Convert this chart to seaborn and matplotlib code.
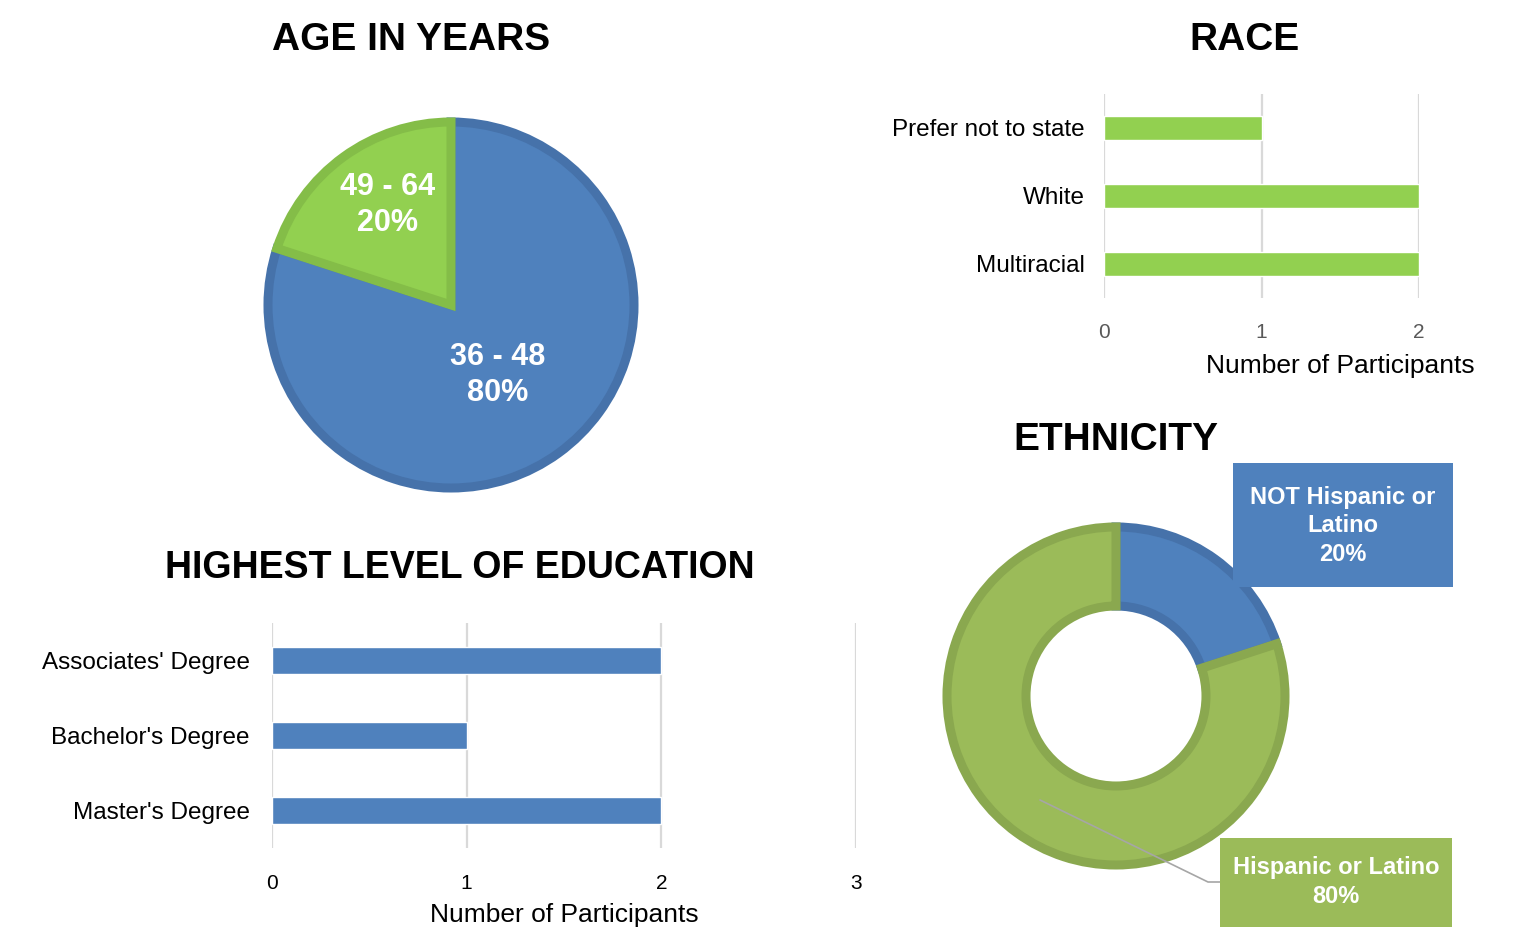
import matplotlib
matplotlib.use("Agg")
import matplotlib.pyplot as plt
import seaborn as sns

# ---- data ----
age_groups = ["36 - 48", "49 - 64"]
age_share = [80, 20]

race_categories = ["Prefer not to state", "White", "Multiracial"]
race_counts = [1, 2, 2]

edu_categories = ["Associates' Degree", "Bachelor's Degree", "Master's Degree"]
edu_counts = [2, 1, 2]

eth_groups = ["NOT Hispanic or\nLatino", "Hispanic or Latino"]
eth_share = [20, 80]

# ---- style ----
sns.set_theme(style="white")
plt.rcParams["font.family"] = ["Liberation Sans", "DejaVu Sans"]

BLUE = "#4f81bd"
BLUE_EDGE = "#4672aa"
LIME = "#92d050"
LIME_EDGE = "#84bd48"
OLIVE = "#9bbb59"
OLIVE_EDGE = "#8aa84f"
GRID = "#d9d9d9"

W, H = 1521, 927
fig = plt.figure(figsize=(W / 100, H / 100), dpi=100)


def box(x0, y0, x1, y1):
    return [x0 / W, 1 - y1 / H, (x1 - x0) / W, (y1 - y0) / H]


def title(text, x, y, size=28):
    fig.text(x / W, 1 - y / H, text, ha="center", va="center",
             fontsize=size, fontweight="bold", color="black")


# ---- age pie ----
ax_age = fig.add_axes(box(251, 105, 651, 505))
ax_age.pie(age_share, colors=[BLUE, LIME], startangle=90, counterclock=False,
           radius=0.915,
           wedgeprops=dict(linewidth=6.5))
for w, ec in zip(ax_age.patches, [BLUE_EDGE, LIME_EDGE]):
    w.set_edgecolor(ec)
ax_age.set_xlim(-1, 1)
ax_age.set_ylim(-1, 1)
ax_age.set_aspect("equal")
age_label_pos = [(0.235, -0.35), (-0.315, 0.5)]
for (lx, ly), grp, pct in zip(age_label_pos, age_groups, age_share):
    ax_age.text(lx, ly, f"{grp}\n{pct}%", ha="center", va="center",
                color="white", fontsize=22, fontweight="bold", linespacing=1.22)
title("AGE IN YEARS", 411, 40)

# ---- race bars ----
ax_race = fig.add_axes(box(1104, 94, 1419, 298))
sns.barplot(x=race_counts, y=race_categories, orient="h", color=LIME,
            width=0.35, saturation=1, ax=ax_race, zorder=3)
ax_race.set_xlim(0, 2)
ax_race.set_ylim(2.5, -0.5)
ax_race.set_xticks([0, 1, 2])
ax_race.grid(axis="x", color=GRID, linewidth=1.6, zorder=0)
ax_race.set_axisbelow(True)
for s in ax_race.spines.values():
    s.set_visible(False)
ax_race.tick_params(axis="both", length=0)
ax_race.tick_params(axis="y", labelsize=17.5, pad=14, labelcolor="black")
ax_race.tick_params(axis="x", labelsize=15, pad=18, labelcolor="#595959")
ax_race.set_ylabel("")
ax_race.set_xlabel("Number of Participants", fontsize=19, color="black")
ax_race.xaxis.set_label_coords((1340 - 1104) / 315, -(366 - 298) / 204)
ax_race.xaxis.label.set_va("center")
title("RACE", 1244, 40)

# ---- education bars ----
ax_edu = fig.add_axes(box(272, 623, 856, 848))
sns.barplot(x=edu_counts, y=edu_categories, orient="h", color=BLUE,
            width=0.35, saturation=1, ax=ax_edu, zorder=3)
ax_edu.set_xlim(0, 3)
ax_edu.set_ylim(2.5, -0.5)
ax_edu.set_xticks([0, 1, 2, 3])
ax_edu.grid(axis="x", color=GRID, linewidth=1.6, zorder=0)
ax_edu.set_axisbelow(True)
for s in ax_edu.spines.values():
    s.set_visible(False)
ax_edu.tick_params(axis="both", length=0)
ax_edu.tick_params(axis="y", labelsize=17.5, pad=16, labelcolor="black")
ax_edu.tick_params(axis="x", labelsize=15, pad=19, labelcolor="black")
ax_edu.set_ylabel("")
ax_edu.set_xlabel("Number of Participants", fontsize=19, color="black")
ax_edu.xaxis.set_label_coords(0.5, -(915 - 848) / 225)
ax_edu.xaxis.label.set_va("center")
title("HIGHEST LEVEL OF EDUCATION", 460, 568, size=27)

# ---- ethnicity donut ----
ax_eth = fig.add_axes(box(916, 496, 1316, 896))
ax_eth.pie(eth_share, colors=[BLUE, OLIVE], startangle=90, counterclock=False,
           radius=0.845,
           wedgeprops=dict(width=0.395, linewidth=6.5))
for w, ec in zip(ax_eth.patches, [BLUE_EDGE, OLIVE_EDGE]):
    w.set_edgecolor(ec)
ax_eth.set_xlim(-1, 1)
ax_eth.set_ylim(-1, 1)
ax_eth.set_aspect("equal")
title("ETHNICITY", 1116, 440)

# data label boxes
fig.patches.append(plt.Rectangle((1233 / W, 1 - 587 / H), 220 / W, 124 / H,
                                 transform=fig.transFigure, facecolor=BLUE,
                                 edgecolor="none", zorder=5))
fig.text(1343 / W, 1 - 526 / H, f"{eth_groups[0]}\n{eth_share[0]}%",
         ha="center", va="center", color="white", fontsize=17,
         fontweight="bold", linespacing=1.3, zorder=6)

fig.add_artist(plt.Line2D([1040 / W, 1208 / W, 1220 / W],
                          [1 - 800 / H, 1 - 882 / H, 1 - 882 / H],
                          transform=fig.transFigure, color="#a6a6a6",
                          linewidth=1.2, zorder=4))
fig.patches.append(plt.Rectangle((1220 / W, 0), 232 / W, 89 / H,
                                 transform=fig.transFigure, facecolor=OLIVE,
                                 edgecolor="none", zorder=5))
fig.text(1336 / W, 1 - 882 / H, f"{eth_groups[1]}\n{eth_share[1]}%",
         ha="center", va="center", color="white", fontsize=17,
         fontweight="bold", linespacing=1.3, zorder=6)

fig.savefig("out.png", dpi=100, facecolor="white")
